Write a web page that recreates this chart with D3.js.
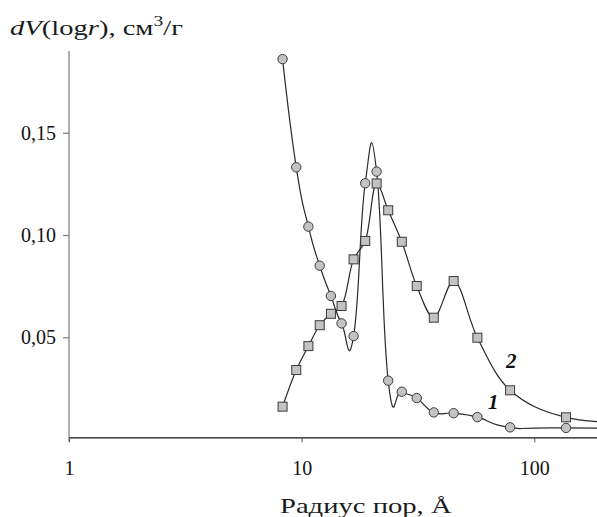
<!DOCTYPE html>
<html>
<head>
<meta charset="utf-8">
<script src="https://cdn.jsdelivr.net/npm/d3@7"></script>
<style>
  body { margin: 0; background: #fff; }
  svg { display: block; }
</style>
</head>
<body>
<script>
// pore radius, Å (shared by both curves)
const radius = [8.28, 9.48, 10.69, 11.96, 13.36, 14.84, 16.72, 18.76, 21.0, 23.55, 26.94, 31.24, 36.98, 45.0, 56.93, 78.7, 136.9];
// curve 1 (circles)
const series1 = [0.186, 0.1331, 0.1041, 0.0850, 0.0702, 0.0568, 0.0506, 0.1253, 0.1310, 0.0288, 0.0234, 0.0203, 0.0133, 0.0129, 0.0110, 0.0060, 0.0057];
// curve 2 (squares)
const series2 = [0.0161, 0.0340, 0.0457, 0.0559, 0.0615, 0.0653, 0.0881, 0.0971, 0.1252, 0.1121, 0.0967, 0.0751, 0.0596, 0.0775, 0.0498, 0.0241, 0.0109];
// curves run on past the last marker and out of the frame
const tailRadius = 1000;
const tail1 = 0.0052;
const tail2 = 0.0078;

const xMax = 186;
const xTicks = [1, 10, 100];
const yTicks = [0.05, 0.10, 0.15];
const curveLabels = [
  { text: "1", r: 63.3, v: 0.0148 },
  { text: "2", r: 75.6, v: 0.035 }
];

const w = 597, h = 517;
const svg = d3.select("body").append("svg")
  .attr("width", w)
  .attr("height", h);

const x = d3.scaleLog().domain([1, xMax]).range([69, 597]);
const y = d3.scaleLinear().domain([0, 0.19]).range([439.6, 50.9]);

const serif = "'Liberation Serif', 'Times New Roman', serif";

// stretch a text horizontally to the wider face used in the original
function stretchTo(sel, x0, width) {
  const bw = sel.node().getBBox().width;
  const k = width / bw;
  sel.attr("transform", "translate(" + x0 + ",0) scale(" + k + ",1) translate(" + (-x0) + ",0)");
}

// y axis (grey line, runs a little below the x axis)
const yAxis = svg.append("g")
  .attr("transform", "translate(" + x(1) + ",0)")
  .call(d3.axisLeft(y).tickValues(yTicks).tickSize(6).tickPadding(7)
    .tickFormat(d => d3.format(".2f")(d).replace(".", ",")));
yAxis.select(".domain").remove();
yAxis.append("line")
  .attr("y1", y(0.19)).attr("y2", y(0) + 2.5)
  .attr("stroke", "#7a7a7a").attr("stroke-width", 1.2);
yAxis.selectAll(".tick line").attr("stroke", "#7a7a7a").attr("stroke-width", 1.2);
yAxis.selectAll("text")
  .attr("font-family", serif).attr("font-size", 20).attr("fill", "#111");

// x axis
const xAxis = svg.append("g")
  .attr("transform", "translate(0," + y(0.0011) + ")")
  .call(d3.axisBottom(x).tickValues(xTicks).tickSize(5).tickSizeOuter(0).tickPadding(18)
    .tickFormat(d3.format("d")));
xAxis.select(".domain").attr("stroke", "#111").attr("stroke-width", 1.3);
xAxis.selectAll(".tick line").attr("stroke", "#555");
xAxis.selectAll("text")
  .attr("font-family", serif).attr("font-size", 20).attr("fill", "#111");

// title
const title = svg.append("text")
  .attr("x", 10).attr("y", 35)
  .attr("font-family", serif).attr("font-size", 20.5).attr("fill", "#1a1a1a");
title.append("tspan").attr("font-style", "italic").text("dV");
title.append("tspan").text("(log");
title.append("tspan").attr("font-style", "italic").text("r");
title.append("tspan").text("), см");
title.append("tspan").attr("font-size", 14).attr("dy", -9).text("3");
title.append("tspan").attr("dy", 9).text("/г");
stretchTo(title, 10, 173);

// x label
const xLabel = svg.append("text")
  .attr("x", 280).attr("y", 513)
  .attr("font-family", serif).attr("font-size", 20.5).attr("fill", "#1a1a1a")
  .text("Радиус пор, Å");
stretchTo(xLabel, 280, 172);

// curves
const pts1 = radius.map((r, i) => [r, series1[i]]).concat([[tailRadius, tail1]]);
const pts2 = radius.map((r, i) => [r, series2[i]]).concat([[tailRadius, tail2]]);

const line1 = d3.line().x(d => x(d[0])).y(d => y(d[1])).curve(d3.curveCardinal.tension(-0.5));
const line2 = d3.line().x(d => x(d[0])).y(d => y(d[1])).curve(d3.curveCatmullRom.alpha(0.5));

svg.append("path").datum(pts1)
  .attr("d", line1).attr("fill", "none").attr("stroke", "#2a2a2a").attr("stroke-width", 1.2);
svg.append("path").datum(pts2)
  .attr("d", line2).attr("fill", "none").attr("stroke", "#2a2a2a").attr("stroke-width", 1.2);

// markers
svg.append("g").selectAll("circle")
  .data(radius.map((r, i) => [r, series1[i]]))
  .enter().append("circle")
  .attr("cx", d => x(d[0]))
  .attr("cy", d => y(d[1]))
  .attr("r", 4.7)
  .attr("fill", "#c3c3c3").attr("stroke", "#3a3a3a").attr("stroke-width", 1);

const sq = 9;
svg.append("g").selectAll("rect")
  .data(radius.map((r, i) => [r, series2[i]]))
  .enter().append("rect")
  .attr("x", d => x(d[0]) - sq / 2)
  .attr("y", d => y(d[1]) - sq / 2)
  .attr("width", sq).attr("height", sq)
  .attr("fill", "#c3c3c3").attr("stroke", "#3a3a3a").attr("stroke-width", 1);

// curve numbers
svg.append("g").selectAll("text")
  .data(curveLabels)
  .enter().append("text")
  .attr("x", d => x(d.r))
  .attr("y", d => y(d.v))
  .attr("font-family", serif).attr("font-style", "italic").attr("font-weight", "bold")
  .attr("font-size", 21).attr("fill", "#111")
  .text(d => d.text);
</script>
</body>
</html>
